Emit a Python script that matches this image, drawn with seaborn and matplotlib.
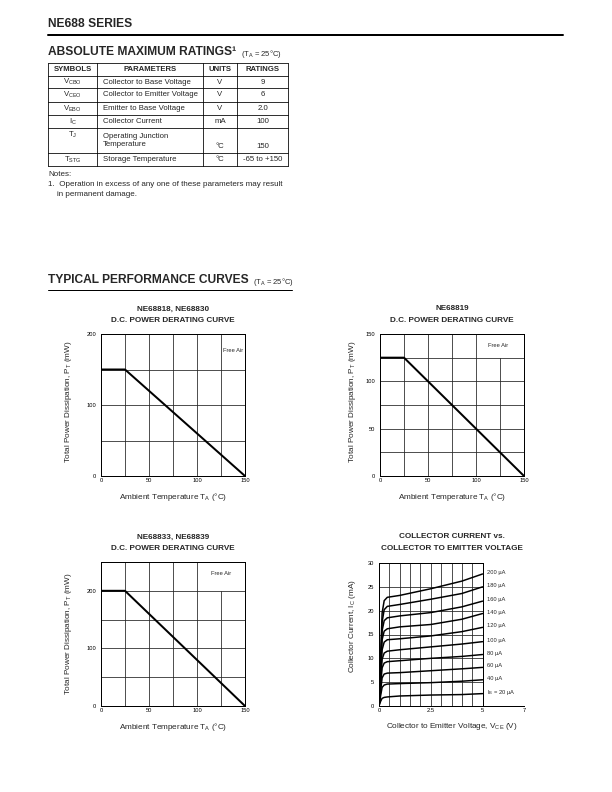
import pandas as pd
import matplotlib
matplotlib.use("Agg")
import matplotlib.pyplot as plt
import seaborn as sns

# absolute maximum ratings table
table_header = ["SYMBOLS", "PARAMETERS", "UNITS", "RATINGS"]
symbols = [r"V$_{CBO}$", r"V$_{CEO}$", r"V$_{EBO}$", r"I$_C$", r"T$_J$", r"T$_{STG}$"]
parameters = ["Collector to Base Voltage", "Collector to Emitter Voltage",
              "Emitter to Base Voltage", "Collector Current",
              "Operating Junction\nTemperature", "Storage Temperature"]
units = ["V", "V", "V", "mA", "°C", "°C"]
ratings = ["9", "6", "2.0", "100", "150", "-65 to +150"]

# D.C. power derating curves
temp_c = [0, 25, 150]
pt_68818 = [150, 150, 0]
pt_68819 = [125, 125, 0]
pt_68833 = [200, 200, 0]

# collector current vs collector to emitter voltage
vce = [0, 0.08, 0.15, 0.25, 0.4, 1.0, 2.5, 4.0, 5.0]
ib_ua = [20, 40, 60, 80, 100, 120, 140, 160, 180, 200]
ic_20 = [0, 1.0, 1.6, 1.8, 1.9, 2.1, 2.3, 2.4, 2.6]
ic_40 = [0, 2.2, 3.9, 4.4, 4.6, 4.7, 4.9, 5.2, 5.5]
ic_60 = [0, 3.2, 5.9, 6.7, 6.9, 7.0, 7.4, 7.8, 8.1]
ic_80 = [0, 4.3, 8.0, 9.0, 9.3, 9.5, 10.0, 10.4, 10.8]
ic_100 = [0, 5.3, 9.8, 11.1, 11.5, 11.8, 12.4, 13.0, 13.5]
ic_120 = [0, 6.3, 11.8, 13.4, 13.9, 14.1, 14.7, 15.6, 16.5]
ic_140 = [0, 7.5, 13.9, 15.7, 16.2, 16.6, 17.1, 18.2, 19.4]
ic_160 = [0, 8.4, 15.8, 17.9, 18.5, 18.9, 19.6, 20.8, 22.0]
ic_180 = [0, 9.3, 17.6, 20.2, 20.9, 21.3, 22.4, 23.6, 25.0]
ic_200 = [0, 10.3, 19.5, 22.1, 22.8, 23.2, 24.6, 26.2, 27.7]
ic_curves = [ic_20, ic_40, ic_60, ic_80, ic_100, ic_120, ic_140, ic_160, ic_180, ic_200]

sns.set_style("white")
plt.rcParams['font.family'] = ['Liberation Sans', 'DejaVu Sans']
plt.rcParams['mathtext.fontset'] = 'custom'
plt.rcParams['mathtext.rm'] = 'Liberation Sans'
plt.rcParams['mathtext.default'] = 'regular'

W, H = 612, 792
fig = plt.figure(figsize=(W / 72, H / 72), dpi=72)
fig.patch.set_facecolor("white")

# page layer in pixel coordinates
page = fig.add_axes([0, 0, 1, 1])
page.set_xlim(0, W)
page.set_ylim(H, 0)
page.axis("off")


def px_rect(x0, y0, x1, y1):
    return [x0 / W, (H - y1) / H, (x1 - x0) / W, (y1 - y0) / H]


page.text(48, 24, "NE688 SERIES", fontsize=12, fontweight="bold", va="center")
page.plot([48, 563], [35, 35], color="black", lw=2)

page.text(48, 52, "ABSOLUTE MAXIMUM RATINGS¹", fontsize=12, fontweight="bold", va="center")
page.text(241, 53.5, r"(T$_A$ = 25°C)", fontsize=7.6, va="center")

# table grid
col_x = [48, 97, 203, 237, 288]
row_y = [63, 76, 88, 102, 115, 128, 153, 166]
for x in col_x:
    page.plot([x, x], [row_y[0], row_y[-1]], color="black", lw=0.8)
for y in row_y:
    page.plot([col_x[0], col_x[-1]], [y, y], color="black", lw=0.8)

fs_tab = 7.8
hy = (row_y[0] + row_y[1]) / 2
for i, h in enumerate(table_header):
    page.text((col_x[i] + col_x[i + 1]) / 2, hy, h, fontsize=fs_tab, fontweight="bold",
              ha="center", va="center")

for r in range(len(symbols)):
    top, bot = row_y[r + 1], row_y[r + 2]
    mid = (top + bot) / 2
    if "\n" in parameters[r]:
        page.text((col_x[0] + col_x[1]) / 2, top + 7, symbols[r], fontsize=fs_tab, ha="center", va="center")
        page.text(col_x[1] + 6, mid, parameters[r], fontsize=fs_tab, ha="left", va="center", linespacing=1.0)
        page.text((col_x[2] + col_x[3]) / 2, bot - 7, units[r], fontsize=fs_tab, ha="center", va="center")
        page.text((col_x[3] + col_x[4]) / 2, bot - 7, ratings[r], fontsize=fs_tab, ha="center", va="center")
    else:
        page.text((col_x[0] + col_x[1]) / 2, mid, symbols[r], fontsize=fs_tab, ha="center", va="center")
        page.text(col_x[1] + 6, mid, parameters[r], fontsize=fs_tab, ha="left", va="center")
        page.text((col_x[2] + col_x[3]) / 2, mid, units[r], fontsize=fs_tab, ha="center", va="center")
        page.text((col_x[3] + col_x[4]) / 2, mid, ratings[r], fontsize=fs_tab, ha="center", va="center")

page.text(48, 175, "Notes:", fontsize=8, va="center")
page.text(48, 184.5, "1.  Operation in excess of any one of these parameters may result", fontsize=8, va="center")
page.text(57, 194, "in permanent damage.", fontsize=8, va="center")

page.text(48, 280, "TYPICAL PERFORMANCE CURVES", fontsize=12, fontweight="bold", va="center")
page.text(253, 282, r"(T$_A$ = 25°C)", fontsize=7.6, va="center")
page.plot([48, 292], [289.5, 289.5], color="black", lw=1)

grid_kw = dict(color="#262626", lw=0.8, zorder=1)


def style_axes(ax):
    ax.set_facecolor("none")
    for s in ax.spines.values():
        s.set_color("black")
        s.set_linewidth(1.0)
    ax.tick_params(length=0, labelsize=5.7, colors="black")
    ax.tick_params(axis="x", pad=2.5)
    ax.tick_params(axis="y", pad=5)
    ax.set_xlabel("")
    ax.set_ylabel("")


def derating(rect, power, ymax, ystep, yticks, cut_at):
    ax = fig.add_axes(rect)
    for x in [25, 50, 75, 100, 125]:
        top = cut_at / ymax if (x == 125 and cut_at) else 1
        ax.axvline(x, ymin=0, ymax=top, **grid_kw)
    y = ystep
    while y < ymax:
        ax.axhline(y, **grid_kw)
        y += ystep
    sns.lineplot(x=temp_c, y=power, color="black", lw=2, ax=ax, zorder=3)
    ax.set_xlim(0, 150)
    ax.set_ylim(0, ymax)
    ax.set_xticks([0, 50, 100, 150])
    ax.set_yticks(yticks)
    style_axes(ax)
    return ax


# NE68818, NE68830
ax1 = derating(px_rect(101, 334, 245, 476), pt_68818, 200, 50, [0, 100, 200], None)
ax1.text(0.92, 0.887, "Free Air", transform=ax1.transAxes, fontsize=5.7, ha="center", va="center")
# NE68819
ax2 = derating(px_rect(380, 334, 524, 476), pt_68819, 150, 25, [0, 50, 100, 150], 125)
ax2.text(0.82, 0.92, "Free Air", transform=ax2.transAxes, fontsize=5.7, ha="center", va="center")
# NE68833, NE68839
ax3 = derating(px_rect(101, 562, 245, 706), pt_68833, 250, 50, [0, 100, 200], 200)
ax3.text(0.833, 0.917, "Free Air", transform=ax3.transAxes, fontsize=5.7, ha="center", va="center")

# collector current curves
ax4 = fig.add_axes(px_rect(379, 563, 524, 706))
for k in range(1, 10):
    ax4.axvline(k * 0.5, **grid_kw)
for k in range(1, 6):
    ax4.axhline(k * 5, xmin=0, xmax=5 / 7, **grid_kw)
rows = []
for ib, curve in zip(ib_ua, ic_curves):
    for v, i in zip(vce, curve):
        rows.append({"vce": v, "ic": i, "ib": str(ib)})
iv = pd.DataFrame(rows)
sns.lineplot(data=iv, x="vce", y="ic", hue="ib", palette={str(b): "black" for b in ib_ua},
             estimator=None, sort=False, legend=False, lw=1.5, ax=ax4, zorder=3)
for ib, curve in zip(ib_ua, ic_curves):
    lab = r"I$_B$ = %d µA" % ib if ib == 20 else "%d µA" % ib
    ax4.text(5.2, curve[-1] + 0.3, lab, fontsize=5.8, ha="left", va="center")
ax4.set_xlim(0, 7)
ax4.set_ylim(0, 30)
ax4.set_xticks([0, 2.5, 5, 7])
ax4.set_xticklabels(["0", "2.5", "5", "7"])
ax4.set_yticks([0, 5, 10, 15, 20, 25, 30])
style_axes(ax4)
ax4.spines["top"].set_bounds(0, 5)
ax4.spines["right"].set_position(("data", 5))

# titles and axis labels
title_kw = dict(fontsize=8.1, fontweight="bold", ha="center", va="center")
page.text(173, 309, "NE68818, NE68830", **title_kw)
page.text(173, 320, "D.C. POWER DERATING CURVE", **title_kw)
page.text(452, 309, "NE68819", **title_kw)
page.text(452, 320, "D.C. POWER DERATING CURVE", **title_kw)
page.text(173, 537, "NE68833, NE68839", **title_kw)
page.text(173, 549, "D.C. POWER DERATING CURVE", **title_kw)
page.text(452, 537, "COLLECTOR CURRENT vs.", **title_kw)
page.text(452, 549, "COLLECTOR TO EMITTER VOLTAGE", **title_kw)

lab_kw = dict(fontsize=8.1, ha="center", va="center")
page.text(173, 497, r"Ambient Temperature T$_A$ (°C)", **lab_kw)
page.text(452, 497, r"Ambient Temperature T$_A$ (°C)", **lab_kw)
page.text(173, 727, r"Ambient Temperature T$_A$ (°C)", **lab_kw)
page.text(452, 727, r"Collector to Emitter Voltage, V$_{CE}$ (V)", **lab_kw)
page.text(69, 402, r"Total Power Dissipation, P$_T$ (mW)", rotation=90, **lab_kw)
page.text(353, 402, r"Total Power Dissipation, P$_T$ (mW)", rotation=90, **lab_kw)
page.text(68, 634, r"Total Power Dissipation, P$_T$ (mW)", rotation=90, **lab_kw)
page.text(353, 626, r"Collector Current, I$_C$ (mA)", rotation=90, **lab_kw)

fig.savefig("out.png", dpi=72, facecolor="white")
